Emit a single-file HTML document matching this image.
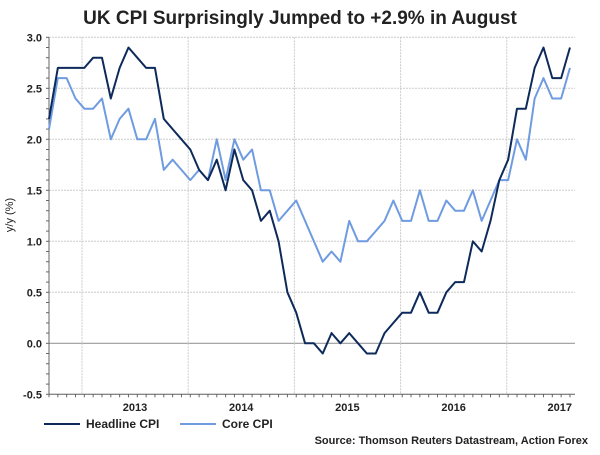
<!DOCTYPE html>
<html><head><meta charset="utf-8"><style>
body{margin:0;background:#fff;width:600px;height:450px;overflow:hidden;font-family:"Liberation Sans",Arial,sans-serif}
svg text{font-family:"Liberation Sans",Arial,sans-serif}
</style></head><body>
<svg id="c" width="600" height="450">
<text x="300" y="24" text-anchor="middle" font-size="19" font-weight="bold" fill="#222">UK CPI Surprisingly Jumped to +2.9% in August</text>
<g id="grid"></g><g id="axes"></g><g id="lines"></g>
<text transform="translate(13,215) rotate(-90)" text-anchor="middle" font-size="11" fill="#222">y/y (%)</text>
<g>
<line x1="44" y1="424" x2="80" y2="424" stroke="#0d2a5a" stroke-width="2"/>
<text x="86" y="428" font-size="12" font-weight="bold" fill="#222">Headline CPI</text>
<line x1="180" y1="424" x2="216" y2="424" stroke="#6f9be0" stroke-width="2"/>
<text x="222" y="428" font-size="12" font-weight="bold" fill="#222">Core CPI</text>
</g>
<text x="588" y="444" text-anchor="end" font-size="11" font-weight="bold" fill="#222">Source: Thomson Reuters Datastream, Action Forex</text>
</svg>
<script>
const headline=[2.2,2.7,2.7,2.7,2.7,2.8,2.8,2.4,2.7,2.9,2.8,2.7,2.7,2.2,2.1,2.0,1.9,1.7,1.6,1.8,1.5,1.9,1.6,1.5,1.2,1.3,1.0,0.5,0.3,0.0,0.0,-0.1,0.1,0.0,0.1,0.0,-0.1,-0.1,0.1,0.2,0.3,0.3,0.5,0.3,0.3,0.5,0.6,0.6,1.0,0.9,1.2,1.6,1.8,2.3,2.3,2.7,2.9,2.6,2.6,2.9];
const core=[2.1,2.6,2.6,2.4,2.3,2.3,2.4,2.0,2.2,2.3,2.0,2.0,2.2,1.7,1.8,1.7,1.6,1.7,1.6,2.0,1.6,2.0,1.8,1.9,1.5,1.5,1.2,1.3,1.4,1.2,1.0,0.8,0.9,0.8,1.2,1.0,1.0,1.1,1.2,1.4,1.2,1.2,1.5,1.2,1.2,1.4,1.3,1.3,1.5,1.2,1.4,1.6,1.6,2.0,1.8,2.4,2.6,2.4,2.4,2.7];
const yTicks=[3.0,2.5,2.0,1.5,1.0,0.5,0.0,-0.5];
const years=["2013","2014","2015","2016","2017"];
const NS="http://www.w3.org/2000/svg";
const X0=49,X1=575,DX=8.83,YB=82;
function xs(i){return X0+i*DX;}
function ys(v){return 343.3-v*102;}
function mk(t,a,p){const e=document.createElementNS(NS,t);for(const k in a)e.setAttribute(k,a[k]);p.appendChild(e);return e;}
const grid=document.getElementById('grid'),axes=document.getElementById('axes'),lines=document.getElementById('lines');
yTicks.forEach(v=>{
 const l=mk('line',{x1:X0,x2:X1,y1:ys(v),y2:ys(v),stroke:v===0?'#999':'#ccc','stroke-width':v===0?1.2:1,'stroke-dasharray':v===0?'':'2,1'},grid);
 
 
 const t=mk('text',{x:X0-7,y:ys(v)+4,'text-anchor':'end','font-size':11,'font-weight':'bold',fill:'#222'},axes);
 t.textContent=v.toFixed(1);
 
 
});
years.forEach((y,k)=>{
 const gx=YB+k*106.2;
 const l=mk('line',{x1:gx,x2:gx,y1:ys(3),y2:ys(-0.5),stroke:'#ccc','stroke-dasharray':'2,1'},grid);
 
 
 const t=mk('text',{x:gx+53,y:411,'text-anchor':'middle','font-size':11,'font-weight':'bold',fill:'#222'},axes);
 t.textContent=y;
 
 
});
mk('line',{x1:X0,x2:X0,y1:ys(3),y2:ys(-0.5),stroke:'#666'},axes);
mk('line',{x1:X0,x2:X1,y1:ys(-0.5),y2:ys(-0.5),stroke:'#666'},axes);
for(let v=-0.5;v<=3.0001;v+=0.1){mk('line',{x1:X0-3,x2:X0,y1:ys(v),y2:ys(v),stroke:'#666'},axes);}
for(let i=0;i<60;i++){mk('line',{x1:xs(i),x2:xs(i),y1:ys(-0.5),y2:ys(-0.5)+3,stroke:'#666'},axes);}
function series(d,c,name){
 const p=mk('polyline',{points:d.map((v,i)=>xs(i)+','+ys(v)).join(' '),fill:'none',stroke:c,'stroke-width':2,'stroke-linejoin':'round'},lines);
 
 
}
series(core,'#6f9be0','core-cpi-line');
series(headline,'#0d2a5a','headline-cpi-line');
</script>
</body></html>
